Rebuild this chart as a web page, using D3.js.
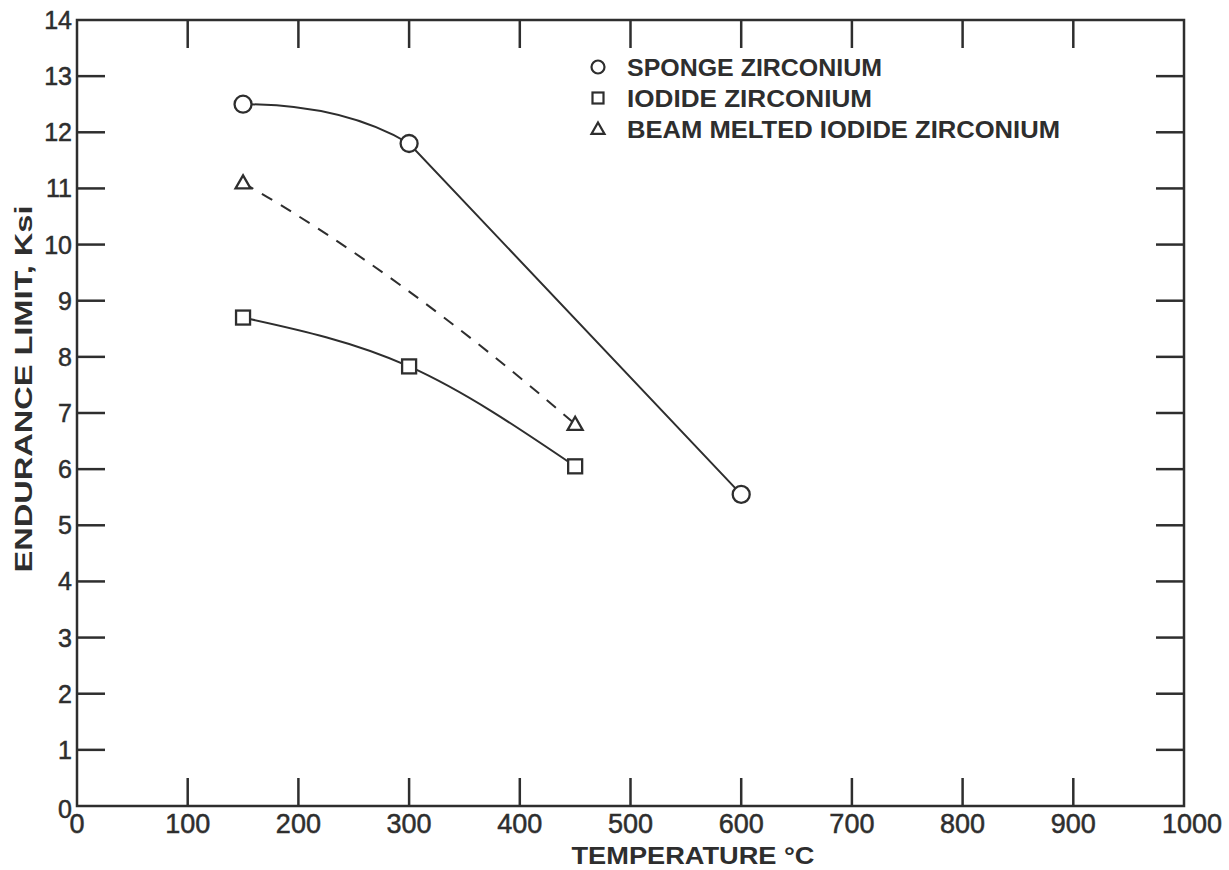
<!DOCTYPE html>
<html>
<head>
<meta charset="utf-8">
<script src="https://cdn.jsdelivr.net/npm/d3@7"></script>
<style>
  html, body { margin: 0; padding: 0; background: #fff; }
  svg { display: block; }
</style>
</head>
<body>
<div id="chart"></div>
<script>
// --------------- Data ---------------
const spongeTemp = [150, 300, 600];
const spongeLimit = [12.5, 11.8, 5.55];
const iodideTemp = [150, 300, 450];
const iodideLimit = [8.7, 7.83, 6.05];
const beamTemp = [150, 450];
const beamLimit = [11.1, 6.8];

const xTicks = [0, 100, 200, 300, 400, 500, 600, 700, 800, 900, 1000];
const yTicks = [0, 1, 2, 3, 4, 5, 6, 7, 8, 9, 10, 11, 12, 13, 14];
const legendLabels = ["SPONGE  ZIRCONIUM", "IODIDE  ZIRCONIUM", "BEAM MELTED IODIDE ZIRCONIUM"];

// --------------- Layout ---------------
const WIDTH = 1229;
const HEIGHT = 870;
const LEFT = 77, RIGHT = 1184, TOP = 20, BOTTOM = 806;
const TICK = 28;
const INK = "#2e2e2e";

const svg = d3.select("#chart").append("svg")
  .attr("width", WIDTH)
  .attr("height", HEIGHT);

const x = d3.scaleLinear().domain([0, 1000]).range([LEFT, RIGHT]);
const y = d3.scaleLinear().domain([0, 14]).range([BOTTOM, TOP]);

// frame
svg.append("rect")
  .attr("x", LEFT).attr("y", TOP)
  .attr("width", RIGHT - LEFT).attr("height", BOTTOM - TOP)
  .attr("fill", "none")
  .attr("stroke", INK)
  .attr("stroke-width", 2.5);

// ticks on all four sides, pointing inward
const inner = (arr) => arr.slice(1, -1);
const tickG = svg.append("g").attr("stroke", INK).attr("stroke-width", 2.5);
inner(xTicks).forEach(t => {
  tickG.append("line").attr("x1", x(t)).attr("x2", x(t)).attr("y1", BOTTOM).attr("y2", BOTTOM - TICK);
  tickG.append("line").attr("x1", x(t)).attr("x2", x(t)).attr("y1", TOP).attr("y2", TOP + TICK);
});
inner(yTicks).forEach(t => {
  tickG.append("line").attr("y1", y(t)).attr("y2", y(t)).attr("x1", LEFT).attr("x2", LEFT + TICK);
  tickG.append("line").attr("y1", y(t)).attr("y2", y(t)).attr("x1", RIGHT).attr("x2", RIGHT - TICK);
});

// tick labels
svg.append("g")
  .selectAll("text")
  .data(xTicks)
  .join("text")
  .attr("x", d => x(d) + (d === 1000 ? 8 : 0))
  .attr("y", BOTTOM + 27)
  .attr("text-anchor", "middle")
  .attr("font-family", "Liberation Sans, Arial, sans-serif")
  .attr("font-size", 27)
  .attr("fill", INK)
  .attr("stroke", INK)
  .attr("stroke-width", 0.5)
  .text(d => d);

svg.append("g")
  .selectAll("text")
  .data(yTicks)
  .join("text")
  .attr("x", LEFT - 5)
  .attr("y", d => y(d) + (d === 0 ? 3 : 0))
  .attr("dy", "0.36em")
  .attr("text-anchor", "end")
  .attr("font-family", "Liberation Sans, Arial, sans-serif")
  .attr("font-size", 25)
  .attr("fill", INK)
  .attr("stroke", INK)
  .attr("stroke-width", 0.5)
  .text(d => d);

// axis titles
svg.append("text")
  .attr("x", 693)
  .attr("y", 864)
  .attr("text-anchor", "middle")
  .attr("font-family", "Liberation Sans, Arial, sans-serif")
  .attr("font-weight", "bold")
  .attr("font-size", 24)
  .attr("fill", INK)
  .attr("textLength", 243)
  .attr("lengthAdjust", "spacingAndGlyphs")
  .text("TEMPERATURE °C");

svg.append("text")
  .attr("transform", "translate(32,389) rotate(-90)")
  .attr("text-anchor", "middle")
  .attr("font-family", "Liberation Sans, Arial, sans-serif")
  .attr("font-weight", "bold")
  .attr("font-size", 23)
  .attr("fill", INK)
  .attr("textLength", 367)
  .attr("lengthAdjust", "spacingAndGlyphs")
  .text("ENDURANCE LIMIT, Ksi");

// --------------- Curves ---------------
const pts = (xs, ys) => xs.map((t, i) => [x(t), y(ys[i])]);

// sponge: eased bend into 300 °C, then straight on to 600 °C
function spongePath(p) {
  const path = d3.path();
  path.moveTo(p[0][0], p[0][1]);
  path.quadraticCurveTo(p[0][0] + 0.6 * (p[1][0] - p[0][0]), p[0][1], p[1][0], p[1][1]);
  path.lineTo(p[2][0], p[2][1]);
  return path.toString();
}

// beam melted: single bowed dashed curve
function bowPath(p) {
  const path = d3.path();
  const dx = p[1][0] - p[0][0], dy = p[1][1] - p[0][1];
  path.moveTo(p[0][0], p[0][1]);
  path.quadraticCurveTo(p[0][0] + 0.47 * dx, p[0][1] + 0.37 * dy, p[1][0], p[1][1]);
  return path.toString();
}

const spongePts = pts(spongeTemp, spongeLimit);
const iodidePts = pts(iodideTemp, iodideLimit);
const beamPts = pts(beamTemp, beamLimit);

const lines = svg.append("g")
  .attr("fill", "none")
  .attr("stroke", INK)
  .attr("stroke-width", 2);

lines.append("path").attr("d", spongePath(spongePts));
lines.append("path").attr("d", d3.line().curve(d3.curveMonotoneX)(iodidePts));
lines.append("path")
  .attr("d", bowPath(beamPts))
  .attr("stroke-dasharray", "12,10");

// --------------- Markers ---------------
function marker(g, kind, cx, cy, s) {
  if (kind === "circle") {
    g.append("circle").attr("cx", cx).attr("cy", cy).attr("r", s);
  } else if (kind === "square") {
    g.append("rect").attr("x", cx - s).attr("y", cy - s).attr("width", 2 * s).attr("height", 2 * s);
  } else {
    g.append("path").attr("d", `M${cx},${cy - s}L${cx + s},${cy + s * 0.75}L${cx - s},${cy + s * 0.75}Z`);
  }
}

const marks = svg.append("g")
  .attr("fill", "#fff")
  .attr("stroke", INK)
  .attr("stroke-width", 2.3);

spongePts.forEach(p => marker(marks, "circle", p[0], p[1], 8.5));
iodidePts.forEach(p => marker(marks, "square", p[0], p[1], 7));
beamPts.forEach(p => marker(marks, "triangle", p[0], p[1], 7.5));

// --------------- Legend ---------------
const legendKinds = ["circle", "square", "triangle"];
const legendWidths = [255, 245, 433];
const legendBase = [76, 107, 138];
const legendSize = [6.5, 5.5, 6.5];

legendLabels.forEach((label, i) => {
  const g = svg.append("g");
  const m = g.append("g").attr("fill", "#fff").attr("stroke", INK).attr("stroke-width", 2.2);
  marker(m, legendKinds[i], 598, legendBase[i] - 9, legendSize[i]);
  g.append("text")
    .attr("x", 627)
    .attr("y", legendBase[i])
    .attr("font-family", "Liberation Sans, Arial, sans-serif")
    .attr("font-weight", "bold")
    .attr("font-size", 24)
    .attr("fill", INK)
    .attr("textLength", legendWidths[i])
    .attr("lengthAdjust", "spacingAndGlyphs")
    .text(label);
});
</script>
</body>
</html>
